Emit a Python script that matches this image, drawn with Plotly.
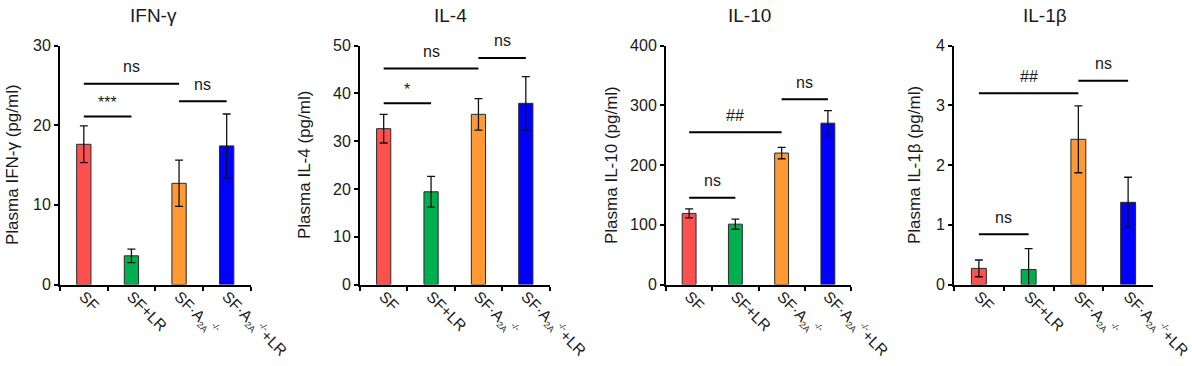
import plotly.graph_objects as go

# ---------------- data ----------------
SUBS = "<span style='font-size:9px'>"
categories = ["SF", "SF+LR",
              "SF·A<sub>" + SUBS + "2A</span></sub><sup>" + SUBS + "-/-</span></sup>",
              "SF·A<sub>" + SUBS + "2A</span></sub><sup>" + SUBS + "-/-</span></sup>+LR"]
bar_colors = ["#FF5050", "#00B050", "#FF9933", "#0000FF"]

panel_titles = ["IFN-γ", "IL-4", "IL-10", "IL-1β"]
y_titles = ["Plasma IFN-γ (pg/ml)", "Plasma IL-4 (pg/ml)",
            "Plasma IL-10 (pg/ml)", "Plasma IL-1β (pg/ml)"]

ifn_mean = [17.6, 3.6, 12.7, 17.4]
ifn_err = [2.3, 0.85, 2.9, 4.0]
il4_mean = [32.6, 19.4, 35.6, 37.9]
il4_err = [3.0, 3.2, 3.3, 5.6]
il10_mean = [119, 101, 220, 270]
il10_err = [7.5, 8.5, 9.5, 21]
il1b_mean = [0.27, 0.25, 2.43, 1.375]
il1b_err = [0.14, 0.35, 0.56, 0.42]

y_max = [30, 50, 400, 4]
y_step = [10, 10, 100, 1]

# significance brackets: (from bar, to bar, height, label)
ifn_sig = [(0, 1, 21.1, "***"), (0, 2, 25.2, "ns"), (2, 3, 23.0, "ns")]
il4_sig = [(0, 1, 37.9, "*"), (0, 2, 45.2, "ns"), (2, 3, 47.4, "ns")]
il10_sig = [(0, 1, 145, "ns"), (0, 2, 255, "##"), (2, 3, 310, "ns")]
il1b_sig = [(0, 1, 0.84, "ns"), (0, 2, 3.2, "##"), (2, 3, 3.41, "ns")]

means = [ifn_mean, il4_mean, il10_mean, il1b_mean]
errs = [ifn_err, il4_err, il10_err, il1b_err]
sigs = [ifn_sig, il4_sig, il10_sig, il1b_sig]

# ---------------- layout geometry ----------------
W, H = 1192, 366
x_px = [(60, 250.5), (360, 549.5), (666, 851), (954, 1153)]
title_x_px = [153, 450, 749, 1045]
ytitle_x_px = [13, 305, 612, 915]
y_top_px, y_bot_px = 45.5, 284.5
ydom = [1 - y_bot_px / H, 1 - y_top_px / H]

FONT = "Liberation Sans, Arial, sans-serif"
TXT = "#1a1a1a"

fig = go.Figure()
shapes = []
annotations = []

for k in range(4):
    ax = "" if k == 0 else str(k + 1)
    xa, ya = "x" + ax, "y" + ax
    fig.add_trace(go.Bar(
        x=categories, y=means[k],
        marker=dict(color=bar_colors, line=dict(color="#2a2a2a", width=1)),
        width=0.3,
        error_y=dict(type="data", array=errs[k], visible=True,
                     color="#111111", thickness=1.3, width=4),
        xaxis=xa, yaxis=ya, showlegend=False, hoverinfo="skip",
    ))
    lay_x = "xaxis" + ax
    lay_y = "yaxis" + ax
    fig.update_layout(**{
        lay_x: dict(
            domain=[x_px[k][0] / W, x_px[k][1] / W],
            anchor=ya, type="category", range=[-0.5, 3.5],
            showline=True, linecolor="black", linewidth=2,
            ticks="outside", tickson="boundaries", ticklen=4,
            tickwidth=2, tickcolor="black", ticklabelstandoff=-5,
            tickangle=45, tickfont=dict(family=FONT, size=15.5, color=TXT),
            showgrid=False, zeroline=False, automargin=False,
        ),
        lay_y: dict(
            domain=ydom, anchor=xa, range=[0, y_max[k]],
            tick0=0, dtick=y_step[k],
            showline=True, linecolor="black", linewidth=2,
            ticks="outside", ticklen=4, tickwidth=2, tickcolor="black",
            tickfont=dict(family=FONT, size=16, color=TXT),
            showgrid=False, zeroline=False, automargin=False,
        ),
    })
    # panel title
    annotations.append(dict(
        text=panel_titles[k], xref="paper", yref="paper",
        x=title_x_px[k] / W, y=1 - 15 / H, xanchor="center", yanchor="middle",
        showarrow=False, font=dict(family=FONT, size=19, color=TXT)))
    # y-axis title
    annotations.append(dict(
        text=y_titles[k], xref="paper", yref="paper",
        x=ytitle_x_px[k] / W, y=(ydom[0] + ydom[1]) / 2,
        xanchor="center", yanchor="middle", textangle=-90,
        showarrow=False, font=dict(family=FONT, size=17, color=TXT)))
    # significance brackets
    for (i, j, h, lab) in sigs[k]:
        shapes.append(dict(type="line", xref=xa, yref=ya,
                           x0=i, x1=j, y0=h, y1=h,
                           line=dict(color="black", width=2)))
        annotations.append(dict(
            text=lab, xref=xa, yref=ya, x=(i + j) / 2, y=h,
            xanchor="center", yanchor="middle",
            yshift=14 if "*" in lab else 17,
            showarrow=False, font=dict(family=FONT, size=16, color=TXT)))

fig.update_layout(
    width=W, height=H,
    margin=dict(l=0, r=0, t=0, b=0),
    paper_bgcolor="white", plot_bgcolor="white",
    shapes=shapes, annotations=annotations,
    bargap=0.7,
)

fig.write_html("out.html",
               config={"displayModeBar": False},
               post_script="document.body.style.margin='0';"
                           "document.body.style.overflow='hidden';")
